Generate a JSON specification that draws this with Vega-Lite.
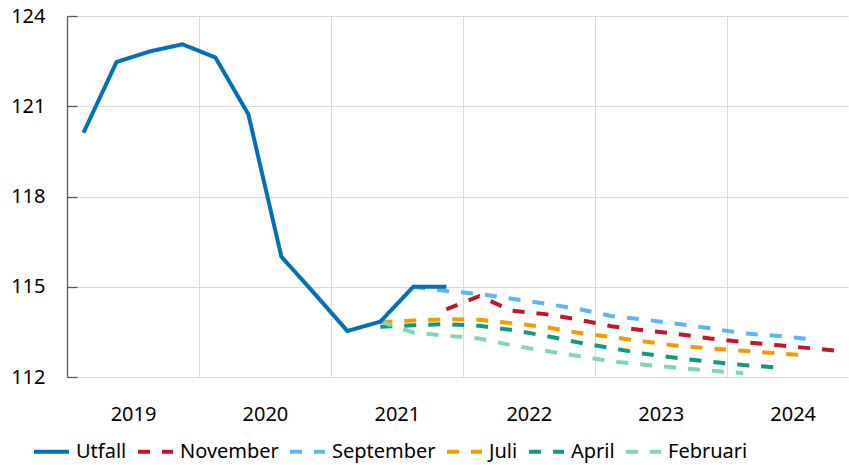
{
  "$schema": "https://vega.github.io/schema/vega-lite/v6.json",
  "width": 781,
  "height": 361,
  "autosize": {"type": "none"},
  "padding": {"left": 67, "top": 16, "right": 1, "bottom": 88},
  "config": {
    "view": {"stroke": null},
    "font": "Noto Sans",
    "axis": {"labelColor": "#000000", "labelFontSize": 20, "gridColor": "#d9d9d9", "gridWidth": 1, "title": null},
    "legend": {"labelColor": "#000000"}
  },
  "data": {
    "values": [
      {"s": "Utfall", "t": 2019.125, "v": 120.12},
      {"s": "Utfall", "t": 2019.375, "v": 122.47},
      {"s": "Utfall", "t": 2019.625, "v": 122.82},
      {"s": "Utfall", "t": 2019.875, "v": 123.06},
      {"s": "Utfall", "t": 2020.125, "v": 122.62},
      {"s": "Utfall", "t": 2020.375, "v": 120.73},
      {"s": "Utfall", "t": 2020.625, "v": 116.0},
      {"s": "Utfall", "t": 2020.875, "v": 114.78},
      {"s": "Utfall", "t": 2021.125, "v": 113.53},
      {"s": "Utfall", "t": 2021.375, "v": 113.84},
      {"s": "Utfall", "t": 2021.625, "v": 115.0},
      {"s": "Utfall", "t": 2021.875, "v": 115.0},

      {"s": "November", "t": 2021.875, "v": 114.25},
      {"s": "November", "t": 2022.125, "v": 114.69},
      {"s": "November", "t": 2022.375, "v": 114.2},
      {"s": "November", "t": 2022.625, "v": 114.09},
      {"s": "November", "t": 2022.875, "v": 113.91},
      {"s": "November", "t": 2023.125, "v": 113.69},
      {"s": "November", "t": 2023.375, "v": 113.55},
      {"s": "November", "t": 2023.625, "v": 113.43},
      {"s": "November", "t": 2023.875, "v": 113.28},
      {"s": "November", "t": 2024.125, "v": 113.16},
      {"s": "November", "t": 2024.375, "v": 113.06},
      {"s": "November", "t": 2024.625, "v": 112.96},
      {"s": "November", "t": 2024.875, "v": 112.86},

      {"s": "September", "t": 2021.625, "v": 115.0},
      {"s": "September", "t": 2021.875, "v": 114.86},
      {"s": "September", "t": 2022.125, "v": 114.76},
      {"s": "September", "t": 2022.375, "v": 114.6},
      {"s": "September", "t": 2022.625, "v": 114.44},
      {"s": "September", "t": 2022.875, "v": 114.26},
      {"s": "September", "t": 2023.125, "v": 114.03},
      {"s": "September", "t": 2023.375, "v": 113.91},
      {"s": "September", "t": 2023.625, "v": 113.77},
      {"s": "September", "t": 2023.875, "v": 113.62},
      {"s": "September", "t": 2024.125, "v": 113.45},
      {"s": "September", "t": 2024.375, "v": 113.37},
      {"s": "September", "t": 2024.625, "v": 113.26},

      {"s": "Juli", "t": 2021.375, "v": 113.82},
      {"s": "Juli", "t": 2021.625, "v": 113.88},
      {"s": "Juli", "t": 2021.875, "v": 113.92},
      {"s": "Juli", "t": 2022.125, "v": 113.9},
      {"s": "Juli", "t": 2022.375, "v": 113.79},
      {"s": "Juli", "t": 2022.625, "v": 113.66},
      {"s": "Juli", "t": 2022.875, "v": 113.47},
      {"s": "Juli", "t": 2023.125, "v": 113.33},
      {"s": "Juli", "t": 2023.375, "v": 113.18},
      {"s": "Juli", "t": 2023.625, "v": 113.04},
      {"s": "Juli", "t": 2023.875, "v": 112.95},
      {"s": "Juli", "t": 2024.125, "v": 112.87},
      {"s": "Juli", "t": 2024.375, "v": 112.79},
      {"s": "Juli", "t": 2024.625, "v": 112.72},

      {"s": "April", "t": 2021.375, "v": 113.67},
      {"s": "April", "t": 2021.625, "v": 113.72},
      {"s": "April", "t": 2021.875, "v": 113.76},
      {"s": "April", "t": 2022.125, "v": 113.7},
      {"s": "April", "t": 2022.375, "v": 113.56},
      {"s": "April", "t": 2022.625, "v": 113.37},
      {"s": "April", "t": 2022.875, "v": 113.15},
      {"s": "April", "t": 2023.125, "v": 112.96},
      {"s": "April", "t": 2023.375, "v": 112.77},
      {"s": "April", "t": 2023.625, "v": 112.63},
      {"s": "April", "t": 2023.875, "v": 112.51},
      {"s": "April", "t": 2024.125, "v": 112.4},
      {"s": "April", "t": 2024.375, "v": 112.32},

      {"s": "Februari", "t": 2021.375, "v": 113.84},
      {"s": "Februari", "t": 2021.625, "v": 113.48},
      {"s": "Februari", "t": 2021.875, "v": 113.37},
      {"s": "Februari", "t": 2022.125, "v": 113.28},
      {"s": "Februari", "t": 2022.375, "v": 113.05},
      {"s": "Februari", "t": 2022.625, "v": 112.87},
      {"s": "Februari", "t": 2022.875, "v": 112.7},
      {"s": "Februari", "t": 2023.125, "v": 112.52},
      {"s": "Februari", "t": 2023.375, "v": 112.41},
      {"s": "Februari", "t": 2023.625, "v": 112.31},
      {"s": "Februari", "t": 2023.875, "v": 112.21},
      {"s": "Februari", "t": 2024.125, "v": 112.13}
    ]
  },
  "encoding": {
    "x": {
      "field": "t",
      "type": "quantitative",
      "scale": {"domain": [2019, 2024.92], "nice": false, "zero": false},
      "axis": {
        "values": [2019, 2020, 2021, 2022, 2023, 2024],
        "format": "d",
        "labelOffset": 66,
        "labelFlush": false,
        "labelOverlap": false,
        "ticks": false,
        "domain": false,
        "grid": true,
        "labelPadding": 27
      }
    },
    "y": {
      "field": "v",
      "type": "quantitative",
      "scale": {"domain": [112, 124], "nice": false, "zero": false},
      "axis": {
        "values": [112, 115, 118, 121, 124],
        "domainColor": "#595959",
        "domainWidth": 1.3,
        "tickColor": "#595959",
        "tickWidth": 1.3,
        "tickSize": -10,
        "labelPadding": 32
      }
    },
    "color": {
      "field": "s",
      "type": "nominal",
      "scale": {
        "domain": ["Utfall", "November", "September", "Juli", "April", "Februari"],
        "range": ["#0070b8", "#c1172c", "#5cb6f2", "#f59b00", "#0f9a7f", "#80d4b8"]
      },
      "legend": {
        "title": null,
        "orient": "none",
        "legendX": -35,
        "legendY": 416,
        "direction": "horizontal",
        "symbolType": "stroke",
        "symbolSize": 1225,
        "symbolStrokeWidth": 4,
        "labelFontSize": 20,
        "labelOffset": 5,
        "columnPadding": 3,
        "padding": 0
      }
    },
    "strokeDash": {
      "field": "s",
      "type": "nominal",
      "scale": {
        "domain": ["Utfall", "November", "September", "Juli", "April", "Februari"],
        "range": [[1, 0], [12, 12], [12, 12], [12, 12], [12, 12], [12, 12]]
      },
      "legend": {
        "title": null,
        "orient": "none",
        "legendX": -35,
        "legendY": 416,
        "direction": "horizontal",
        "symbolType": "stroke",
        "symbolSize": 1225,
        "symbolStrokeWidth": 4,
        "labelFontSize": 20,
        "labelOffset": 5,
        "columnPadding": 3,
        "padding": 0
      }
    }
  },
  "layer": [
    {
      "transform": [{"filter": "datum.s !== 'Utfall'"}],
      "mark": {"type": "line", "strokeWidth": 4, "strokeCap": "butt"}
    },
    {
      "transform": [{"filter": "datum.s === 'Utfall'"}],
      "mark": {"type": "line", "strokeWidth": 4, "strokeCap": "butt", "strokeJoin": "miter"}
    }
  ]
}
